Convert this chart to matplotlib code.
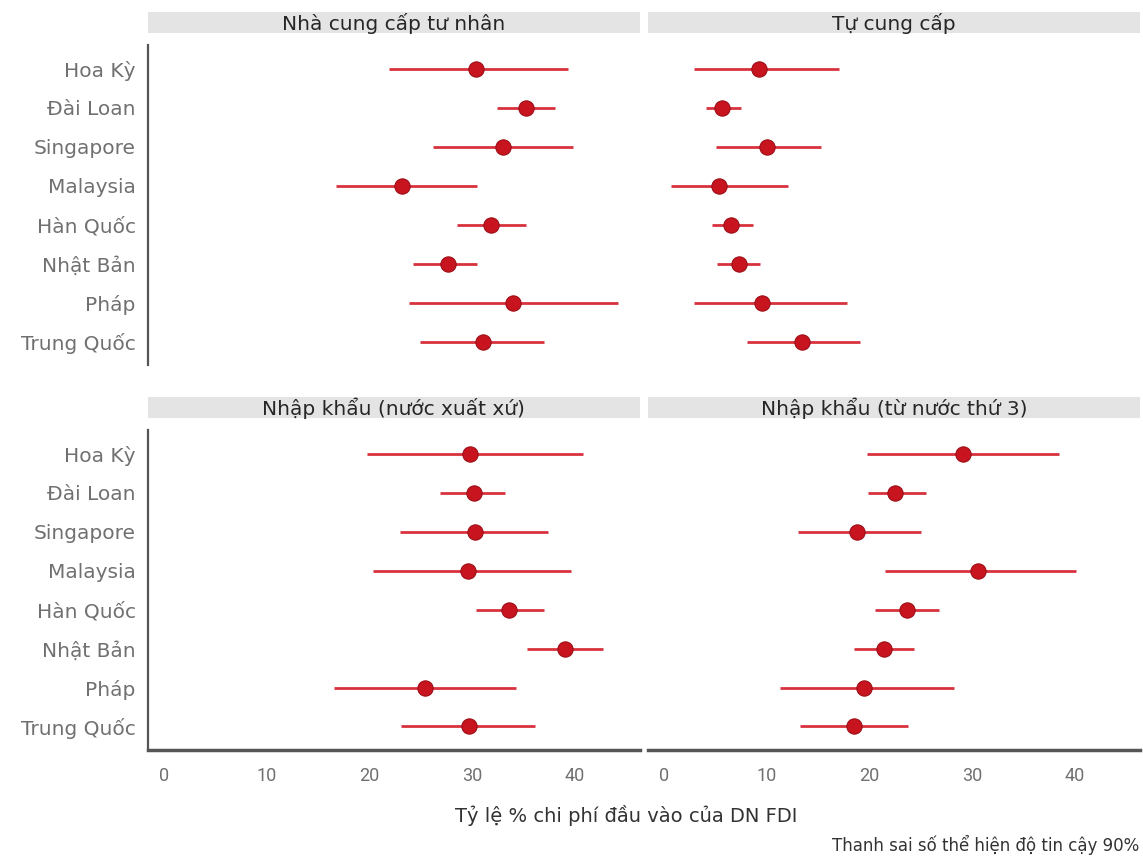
import matplotlib.pyplot as plt
import numpy as np

plt.rcParams["font.family"] = ["DejaVu Sans"]

countries = ["Hoa Kỳ", "Đài Loan", "Singapore", "Malaysia",
             "Hàn Quốc", "Nhật Bản", "Pháp", "Trung Quốc"]

titles = ["Nhà cung cấp tư nhân", "Tự cung cấp",
          "Nhập khẩu (nước xuất xứ)", "Nhập khẩu (từ nước thứ 3)"]

# point estimate, lower and upper bound of the 90% interval
private_est = [30.4, 35.2, 33.0, 23.2, 31.8, 27.6, 34.0, 31.0]
private_lo = [21.9, 32.4, 26.2, 16.7, 28.5, 24.2, 23.8, 24.9]
private_hi = [39.3, 38.1, 39.8, 30.5, 35.2, 30.5, 44.2, 37.0]

self_est = [9.2, 5.6, 10.0, 5.3, 6.5, 7.3, 9.5, 13.4]
self_lo = [2.9, 4.0, 5.0, 0.6, 4.6, 5.1, 2.9, 8.0]
self_hi = [17.0, 7.5, 15.3, 12.0, 8.6, 9.3, 17.8, 19.1]

origin_est = [29.8, 30.2, 30.3, 29.6, 33.6, 39.0, 25.4, 29.7]
origin_lo = [19.7, 26.9, 23.0, 20.3, 30.4, 35.3, 16.5, 23.1]
origin_hi = [40.8, 33.2, 37.4, 39.6, 37.0, 42.7, 34.3, 36.1]

third_est = [29.1, 22.5, 18.8, 30.6, 23.6, 21.4, 19.4, 18.5]
third_lo = [19.7, 19.8, 13.0, 21.5, 20.5, 18.5, 11.3, 13.2]
third_hi = [38.4, 25.5, 25.0, 40.1, 26.8, 24.3, 28.2, 23.7]

panels = [
    (private_est, private_lo, private_hi),
    (self_est, self_lo, self_hi),
    (origin_est, origin_lo, origin_hi),
    (third_est, third_lo, third_hi),
]
xticks = [0, 10, 20, 30, 40]

fig = plt.figure(figsize=(11.43, 8.57), dpi=100)

lefts = [0.1295, 0.567]
width = 0.43
bottoms = [0.574, 0.125]
height = 0.373

point_col = "#c8141f"
bar_col = "#d8323c"
axis_col = "#555555"
text_col = "#707070"

for i, (est, lo, hi) in enumerate(panels):
    row, col = divmod(i, 2)
    ax = fig.add_axes([lefts[col], bottoms[row], width, height])
    y = np.arange(len(countries))
    est = np.array(est)
    ax.hlines(y, lo, hi, color=bar_col, lw=2.0, zorder=2)
    ax.plot(est, y, "o", ms=11, color=point_col, mec="#9c0f18", mew=0.8, zorder=3)

    ax.set_xlim(-1.6, 46.3)
    ax.set_ylim(7.6, -0.6)
    ax.set_yticks(y)
    ax.set_xticks(xticks)
    for s in ax.spines.values():
        s.set_visible(False)
    ax.tick_params(length=0)

    if col == 0:
        ax.spines["left"].set_visible(True)
        ax.spines["left"].set_color(axis_col)
        ax.spines["left"].set_linewidth(1.6)
        ax.set_yticklabels(countries, fontsize=14.5, color=text_col)
        ax.tick_params(axis="y", pad=9)
    else:
        ax.set_yticklabels([])

    if row == 1:
        ax.spines["bottom"].set_visible(True)
        ax.spines["bottom"].set_color(axis_col)
        ax.spines["bottom"].set_linewidth(2.5)
        ax.set_xticklabels([str(t) for t in xticks], fontsize=13,
                           color=text_col, family="Roboto")
        ax.tick_params(axis="x", pad=12)
    else:
        ax.set_xticklabels([])

    # facet strip above each panel
    strip = fig.add_axes([lefts[col], bottoms[row] + height + 0.0145, width, 0.0245])
    strip.set_facecolor("#e4e4e4")
    strip.set_xticks([])
    strip.set_yticks([])
    for s in strip.spines.values():
        s.set_visible(False)
    strip.text(0.5, 0.45, titles[i], ha="center", va="center",
               fontsize=14.5, color="#262626", transform=strip.transAxes)

fig.text(0.548, 0.049, "Tỷ lệ % chi phí đầu vào của DN FDI",
         ha="center", va="center", fontsize=14, color="#333333")
fig.text(0.997, 0.014, "Thanh sai số thể hiện độ tin cậy 90%",
         ha="right", va="center", fontsize=12, color="#333333")

fig.savefig("out.png", dpi=100)
